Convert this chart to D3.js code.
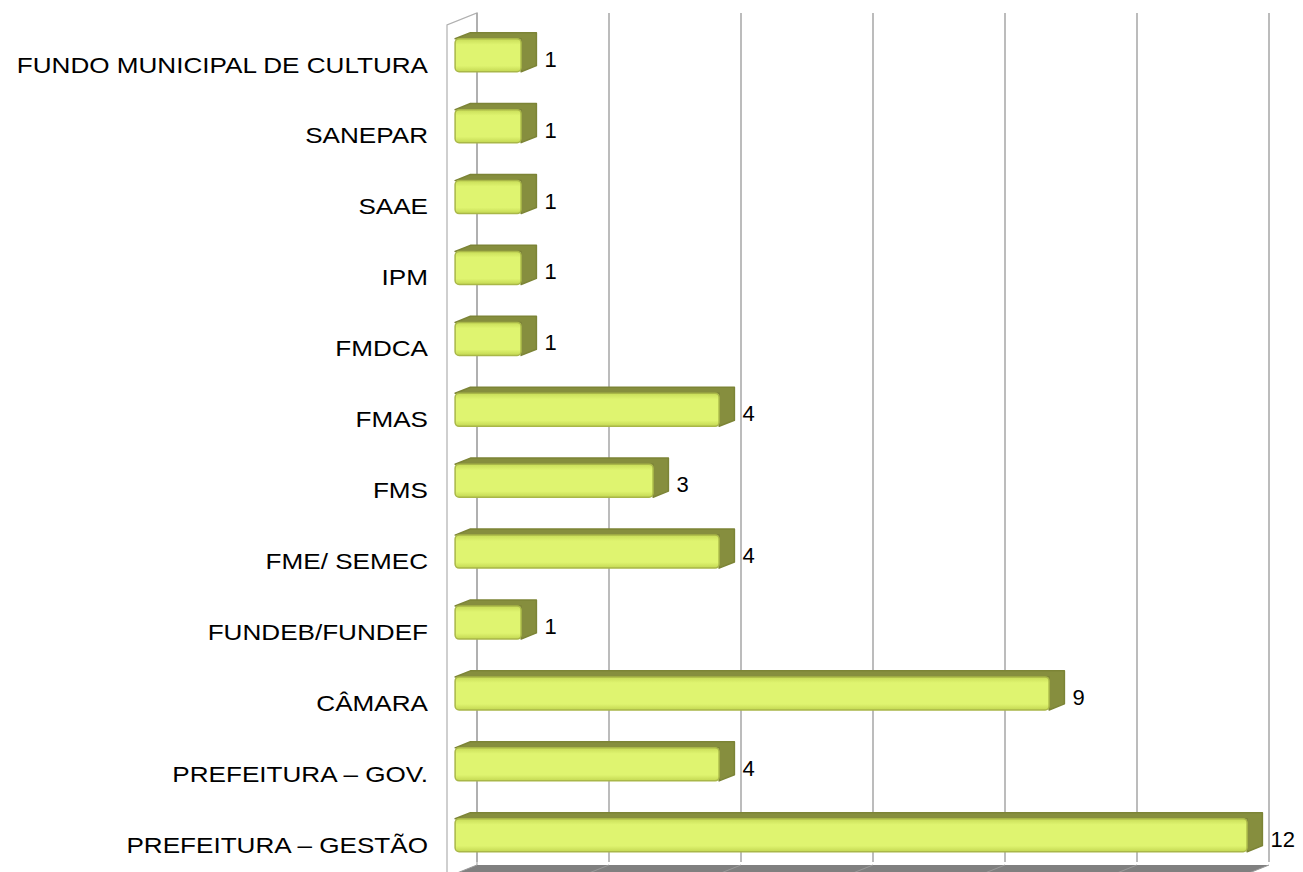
<!DOCTYPE html>
<head>
  <meta charset="utf-8">
  <script src="https://d3js.org/d3.v7.min.js"></script>
  <style>
    body { margin:0; background:#fff; }
    text { font-family: "Liberation Sans", Arial, sans-serif; fill:#000; }
  </style>
</head>
<body>
  <script>
    // data, top row first
    var categories = ["FUNDO MUNICIPAL DE CULTURA", "SANEPAR", "SAAE", "IPM", "FMDCA", "FMAS",
      "FMS", "FME/ SEMEC", "FUNDEB/FUNDEF", "CÂMARA", "PREFEITURA – GOV.", "PREFEITURA – GESTÃO"];
    var values = [1, 1, 1, 1, 1, 4, 3, 4, 1, 9, 4, 12];
    var gridTicks = [0, 2, 4, 6, 8, 10, 12];

    var W = 1303, H = 872;
    var svg = d3.select("body").append("svg")
      .attr("width", W).attr("height", H);

    var defs = svg.append("defs");
    var gV = defs.append("linearGradient").attr("id", "frontV")
      .attr("x1", 0).attr("y1", 0).attr("x2", 0).attr("y2", 1);
    gV.append("stop").attr("offset", "0%").attr("stop-color", "#c8dc58");
    gV.append("stop").attr("offset", "18%").attr("stop-color", "#dff470");
    gV.append("stop").attr("offset", "82%").attr("stop-color", "#dff470");
    gV.append("stop").attr("offset", "100%").attr("stop-color", "#c3d752");

    // front plane scale and 3d depth offset
    var x = d3.scaleLinear().domain([0, 12]).range([447, 1239]);
    var y = d3.scalePoint().domain(categories).range([58.5, 838.5]);
    var DX = 30, DY = -12;          // full depth of the wall
    var d0 = 0.27, d1 = 0.78;       // bar depth span
    var barH = 33;
    var wallTop = 25, floorY = 877;

    function P(px, py, d) { return [px + DX * d, py + DY * d]; }

    // left wall outline
    svg.append("path")
      .attr("d", d3.line()([P(x(0), floorY, 0), P(x(0), wallTop, 0), P(x(0), wallTop, 1), P(x(0), floorY, 1)]))
      .attr("fill", "none").attr("stroke", "#b0b0b0").attr("stroke-width", 1.2);

    // floor
    svg.append("path")
      .attr("d", d3.line()([P(x(0), floorY, 0), P(x(12), floorY, 0), P(x(12), floorY, 1), P(x(0), floorY, 1)]) + "Z")
      .attr("fill", "#808080");
    svg.selectAll(".floorline").data(gridTicks).enter().append("line")
      .attr("x1", function(d) { return P(x(d), floorY, 0)[0]; })
      .attr("y1", function(d) { return P(x(d), floorY, 0)[1]; })
      .attr("x2", function(d) { return P(x(d), floorY, 1)[0]; })
      .attr("y2", function(d) { return P(x(d), floorY, 1)[1]; })
      .attr("stroke", "#9a9a9a").attr("stroke-width", 1);

    // gridlines on back wall
    svg.selectAll(".grid").data(gridTicks).enter().append("line")
      .attr("x1", function(d) { return P(x(d), wallTop, 1)[0]; })
      .attr("x2", function(d) { return P(x(d), wallTop, 1)[0]; })
      .attr("y1", P(0, wallTop, 1)[1])
      .attr("y2", P(0, floorY - 3, 1)[1])
      .attr("stroke", "#a6a6a6").attr("stroke-width", 1.5);

    // bars
    var bars = svg.selectAll(".bar").data(values).enter().append("g");

    bars.each(function(v, i) {
      var g = d3.select(this);
      var cy = y(categories[i]);
      var xl = x(0), xr = x(v);
      var yt = cy - barH / 2, yb = cy + barH / 2;
      var a = P(xl, yt, d0), b = P(xr, yt, d0), c = P(xr, yb, d0), e = P(xl, yb, d0);
      var at = P(xl, yt, d1), bt = P(xr, yt, d1), ct = P(xr, yb, d1);
      // top + side as one olive shape
      g.append("path")
        .attr("d", d3.line()([a, at, bt, ct, c, b]) + "Z")
        .attr("fill", "#868e3e").attr("stroke", "#7c8436").attr("stroke-width", 1.5)
        .attr("stroke-linejoin", "round");
      // front face
      g.append("rect")
        .attr("x", a[0]).attr("y", a[1])
        .attr("width", b[0] - a[0]).attr("height", e[1] - a[1])
        .attr("rx", 4)
        .attr("fill", "url(#frontV)")
        .attr("stroke", "#a9b748").attr("stroke-width", 1.5);
      // value label
      g.append("text")
        .attr("x", bt[0] + 8).attr("y", c[1] - 5)
        .style("font-size", "22px")
        .text(v);
    });

    // category labels (slightly wide lettering, as in the source)
    svg.selectAll(".cat").data(categories).enter().append("text")
      .attr("transform", function(d) {
        return "translate(428," + (y(d) + 14) + ") scale(1.16,1)";
      })
      .attr("text-anchor", "end")
      .style("font-size", "22.5px")
      .text(function(d) { return d; });
  </script>
</body>
